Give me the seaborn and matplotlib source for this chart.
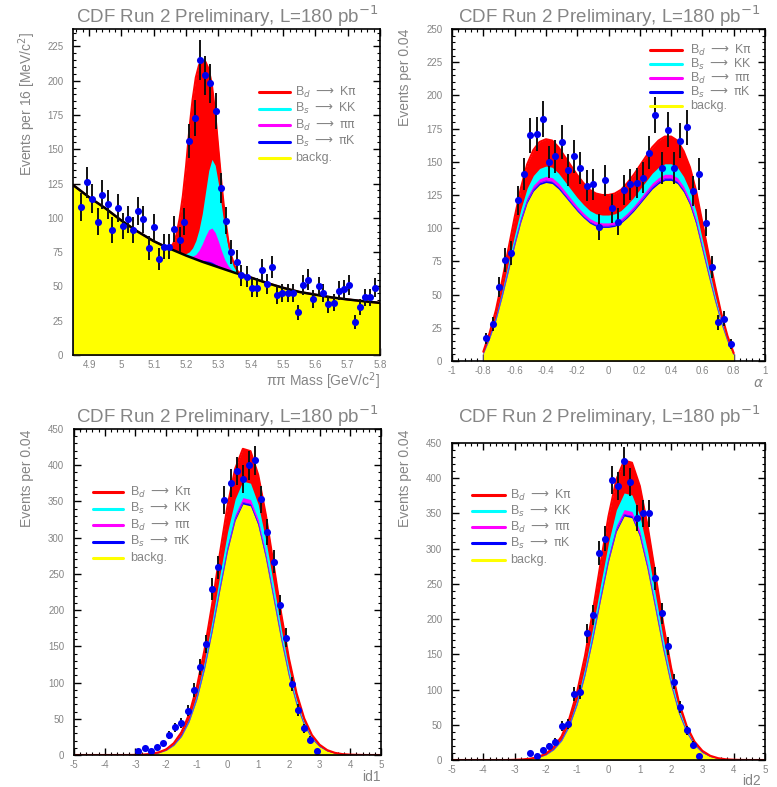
import numpy as np
import pandas as pd
import matplotlib
matplotlib.use("Agg")
import matplotlib.pyplot as plt
from matplotlib.lines import Line2D
from matplotlib.ticker import FixedLocator, MultipleLocator, FuncFormatter
import seaborn as sns

sns.set_theme(style="ticks")
plt.rcParams['font.family'] = ['Liberation Sans', 'DejaVu Sans']

# ---------------- data ----------------
title_text = "CDF Run 2 Preliminary, L=180 pb$^{-1}$"
legend_labels = [r"B$_d$ $\longrightarrow$ K$\mathrm{\pi}$", r"B$_s$ $\longrightarrow$ KK",
                 r"B$_d$ $\longrightarrow$ $\mathrm{\pi\pi}$", r"B$_s$ $\longrightarrow$ $\mathrm{\pi}$K",
                 "backg."]

# panel 1 : pi-pi mass
mass_grid = [4.85, 4.90, 4.95, 5.00, 5.05, 5.10, 5.14, 5.15, 5.16, 5.17, 5.18, 5.19, 5.20, 5.21, 5.22,
             5.23, 5.24, 5.25, 5.26, 5.27, 5.28, 5.29, 5.30, 5.31, 5.32, 5.33, 5.34, 5.35, 5.36, 5.37,
             5.38, 5.40, 5.45, 5.50, 5.55, 5.60, 5.65, 5.70, 5.75, 5.80]
mass_bkg = [124, 115, 107, 98, 90, 83, 78.5, 77.5, 76.5, 75.5, 74.5, 73.5, 72.5, 71.6, 70.7, 69.8, 68.9,
            68.0, 67.2, 66.4, 65.6, 64.8, 64.0, 63.2, 62.4, 61.6, 60.8, 60.0, 59.3, 58.6, 57.9, 56.5,
            52.5, 49.0, 46.0, 44.0, 42.0, 40.5, 39.2, 38.0]
mass_pik = [0, 0, 0, 0, 0, 0, 0, 0, 0, 0, 0, 0, 0, 0, 0, 0, 0.5, 1, 1.5, 2, 2, 1.5, 1, 0.5, 0, 0, 0, 0,
            0, 0, 0, 0, 0, 0, 0, 0, 0, 0, 0, 0]
mass_pipi = [0, 0, 0, 0, 0, 0, 0, 0, 0, 0, 0, 0, 0.2, 0.6, 1.4, 3.5, 7, 12, 18, 23, 25, 23, 18, 12, 7,
             3.5, 1.4, 0.5, 0.2, 0, 0, 0, 0, 0, 0, 0, 0, 0, 0, 0]
mass_kk = [0, 0, 0, 0, 0, 0, 0, 0, 0, 0, 0, 0.5, 1.2, 3, 6, 10, 15, 22, 32, 43, 50, 49, 42, 32, 22, 14,
           8, 4, 1.5, 0.5, 0.2, 0, 0, 0, 0, 0, 0, 0, 0, 0]
mass_kpi = [0, 0, 0, 0, 0, 0, 0, 1, 4.5, 12, 25, 42, 64, 89, 108, 119, 120, 111, 95, 74, 54, 38, 25, 16,
            10, 5, 2, 0.5, 0, 0, 0, 0, 0, 0, 0, 0, 0, 0, 0, 0]
mass_x = [4.876, 4.894, 4.910, 4.926, 4.941, 4.957, 4.972, 4.988, 5.005, 5.021, 5.037, 5.052, 5.068,
          5.085, 5.100, 5.117, 5.133, 5.148, 5.164, 5.180, 5.195, 5.210, 5.226, 5.244, 5.259, 5.275,
          5.292, 5.308, 5.324, 5.340, 5.356, 5.371, 5.387, 5.404, 5.420, 5.435, 5.451, 5.466, 5.482,
          5.498, 5.515, 5.531, 5.546, 5.562, 5.577, 5.593, 5.610, 5.625, 5.640, 5.658, 5.674, 5.689,
          5.705, 5.722, 5.738, 5.754, 5.769, 5.784]
mass_y = [108, 126, 114, 97, 117, 110, 91, 107, 94, 99, 91, 105, 99, 78, 93, 70, 79, 79, 92, 84, 97,
          156, 173, 215, 204, 198, 178, 122, 98, 75, 68, 58, 57, 49, 49, 62, 52, 64, 44, 45, 45, 45,
          31, 51, 55, 41, 50, 45, 37, 38, 47, 48, 51, 24, 35, 42, 42, 49]
mass_xticks = [4.9, 5.0, 5.1, 5.2, 5.3, 5.4, 5.5, 5.6, 5.7, 5.8]
mass_yticks = [0, 25, 50, 75, 100, 125, 150, 175, 200, 225]

# panel 2 : alpha
alpha_grid = [-0.80, -0.76, -0.72, -0.68, -0.64, -0.60, -0.56, -0.52, -0.48, -0.44, -0.40, -0.36, -0.32,
              -0.28, -0.24, -0.20, -0.16, -0.12, -0.08, -0.04, 0.00, 0.04, 0.08, 0.12, 0.16, 0.20, 0.24,
              0.28, 0.32, 0.36, 0.40, 0.44, 0.48, 0.52, 0.56, 0.60, 0.64, 0.68, 0.72, 0.76, 0.80]
alpha_bkg = [5.6, 16.9, 30.6, 48.3, 67.6, 86.9, 104.7, 119.1, 128.0, 132.8, 134.4, 133.6, 129.6, 124.0,
             118.3, 112.7, 107.9, 103.8, 101.4, 100.6, 100.6, 101.4, 103.8, 107.9, 112.7, 118.3, 124.0,
             129.6, 133.6, 136.0, 136.0, 133.6, 127.2, 117.5, 103.0, 83.7, 64.4, 45.9, 29.0, 15.3, 4.8]
alpha_pik = [0.1, 0.2, 0.3, 0.5, 0.7, 0.8, 1.0, 1.2, 1.2, 1.3, 1.3, 1.3, 1.3, 1.2, 1.1, 1.1, 1.0, 1.0,
             1.0, 1.0, 1.0, 1.0, 1.0, 1.0, 1.1, 1.1, 1.2, 1.3, 1.3, 1.3, 1.3, 1.3, 1.2, 1.1, 1.0, 0.8,
             0.6, 0.4, 0.3, 0.1, 0.0]
alpha_pipi = [0.1, 0.4, 0.7, 1.2, 1.6, 2.1, 2.5, 2.9, 3.1, 3.2, 3.3, 3.2, 3.1, 3.0, 2.9, 2.7, 2.6, 2.5,
              2.5, 2.4, 2.4, 2.5, 2.5, 2.6, 2.7, 2.9, 3.0, 3.1, 3.2, 3.3, 3.3, 3.2, 3.1, 2.9, 2.5, 2.0,
              1.6, 1.1, 0.7, 0.4, 0.1]
alpha_kk = [0.3, 1.0, 1.8, 2.8, 3.9, 5.1, 6.1, 6.9, 7.4, 7.7, 7.8, 7.8, 7.5, 7.2, 6.9, 6.6, 6.3, 6.0,
            5.9, 5.9, 5.9, 5.9, 6.0, 6.3, 6.6, 6.9, 7.2, 7.5, 7.8, 7.9, 7.9, 7.8, 7.4, 6.8, 6.0, 4.9,
            3.7, 2.7, 1.7, 0.9, 0.3]
alpha_kpi = [0.9, 2.5, 4.6, 7.3, 10.2, 13.1, 15.7, 17.9, 19.2, 20.0, 20.2, 20.1, 19.5, 18.6, 17.8, 16.9,
             16.2, 15.6, 15.3, 15.1, 15.1, 15.3, 15.6, 16.2, 16.9, 17.8, 18.6, 19.5, 20.1, 20.5, 20.5,
             20.1, 19.1, 17.7, 15.5, 12.6, 9.7, 6.9, 4.3, 2.3, 0.7]
alpha_x = [-0.78, -0.74, -0.70, -0.66, -0.62, -0.58, -0.54, -0.50, -0.46, -0.42, -0.38, -0.34, -0.30,
           -0.26, -0.22, -0.18, -0.14, -0.10, -0.06, -0.02, 0.02, 0.06, 0.10, 0.14, 0.18, 0.22, 0.26,
           0.30, 0.34, 0.38, 0.42, 0.46, 0.50, 0.54, 0.58, 0.62, 0.66, 0.70, 0.74, 0.78]
alpha_y = [17, 28, 56, 76, 81, 121, 141, 170, 171, 182, 150, 154, 165, 144, 154, 145, 132, 133, 101,
           136, 115, 105, 129, 133, 134, 138, 157, 185, 145, 174, 145, 166, 176, 128, 141, 104, 71, 29,
           32, 13]
alpha_xticks = [-1.0, -0.8, -0.6, -0.4, -0.2, 0.0, 0.2, 0.4, 0.6, 0.8, 1.0]
alpha_yticks = [0, 25, 50, 75, 100, 125, 150, 175, 200, 225, 250]

# panels 3/4 : id1, id2
id_grid = [-5.0, -4.75, -4.5, -4.25, -4.0, -3.75, -3.5, -3.25, -3.0, -2.75, -2.5, -2.25, -2.0, -1.75,
           -1.5, -1.25, -1.0, -0.75, -0.5, -0.25, 0.0, 0.25, 0.5, 0.75, 1.0, 1.25, 1.5, 1.75, 2.0, 2.25,
           2.5, 2.75, 3.0, 3.25, 3.5, 3.75, 4.0, 4.25, 4.5, 4.75, 5.0]
id1_bkg = [0, 0, 0, 0, 0, 0, 0, 0, 0.2, 0.5, 1.2, 2.9, 6.4, 13.4, 25.7, 46.2, 76.8, 118.7, 170.5, 227.4,
           281.8, 324.1, 346.5, 343.9, 317.1, 271.5, 216.0, 159.6, 109.5, 69.8, 41.3, 22.7, 11.6, 5.5,
           2.5, 1.0, 0.4, 0.2, 0, 0, 0]
id1_pik = [0, 0, 0, 0, 0, 0, 0, 0, 0, 0, 0, 0, 0, 0.1, 0.2, 0.3, 0.5, 0.8, 1.1, 1.5, 1.9, 2.1, 2.3, 2.3,
           2.1, 1.8, 1.4, 1.1, 0.7, 0.5, 0.3, 0.1, 0.1, 0, 0, 0, 0, 0, 0, 0, 0]
id1_pipi = [0, 0, 0, 0, 0, 0, 0, 0, 0, 0, 0, 0.1, 0.1, 0.2, 0.5, 0.9, 1.4, 2.2, 3.2, 4.2, 5.3, 6.0, 6.5,
            6.4, 5.9, 5.1, 4.0, 3.0, 2.0, 1.3, 0.8, 0.4, 0.2, 0.1, 0, 0, 0, 0, 0, 0, 0]
id1_kk = [0, 0, 0, 0, 0, 0, 0, 0, 0, 0, 0.1, 0.2, 0.4, 0.9, 1.7, 3.0, 5.1, 7.8, 11.2, 15.0, 18.6, 21.3,
          22.8, 22.6, 20.9, 17.9, 14.2, 10.5, 7.2, 4.6, 2.7, 1.5, 0.8, 0.4, 0.2, 0.1, 0, 0, 0, 0, 0]
id1_kpi = [0, 0, 0, 0, 0, 0, 0, 0, 0, 0.1, 0.2, 0.4, 0.8, 1.7, 3.3, 5.9, 9.9, 15.2, 21.9, 29.2, 36.2,
           41.6, 44.5, 44.2, 40.7, 34.9, 27.7, 20.5, 14.1, 9.0, 5.3, 2.9, 1.5, 0.7, 0.3, 0.1, 0.1, 0,
           0, 0, 0]
id1_x = [-2.9, -2.7, -2.5, -2.3, -2.1, -1.9, -1.7, -1.5, -1.3, -1.1, -0.9, -0.7, -0.5, -0.3, -0.1, 0.1,
         0.3, 0.5, 0.7, 0.9, 1.1, 1.3, 1.5, 1.7, 1.9, 2.1, 2.3, 2.5, 2.7, 2.9]
id1_y = [5, 9, 5, 11, 16, 28, 38, 44, 61, 90, 122, 153, 229, 259, 352, 376, 392, 381, 400, 407, 353,
         308, 267, 207, 162, 98, 62, 37, 21, 6]

id2_bkg = [0, 0, 0, 0, 0, 0, 0, 0, 0.2, 0.7, 1.5, 3.4, 7.3, 14.7, 27.3, 48.1, 79.1, 120.6, 172.0, 228.2,
           282.0, 324.4, 346.4, 343.9, 317.0, 270.6, 214.3, 157.3, 106.8, 66.8, 39.1, 21.2, 10.6, 4.9,
           2.1, 0.8, 0.3, 0.1, 0, 0, 0]
id2_pik = [0, 0, 0, 0, 0, 0, 0, 0, 0, 0, 0, 0, 0.1, 0.1, 0.2, 0.3, 0.5, 0.8, 1.2, 1.6, 1.9, 2.2, 2.4,
           2.3, 2.2, 1.8, 1.5, 1.1, 0.7, 0.5, 0.3, 0.1, 0.1, 0, 0, 0, 0, 0, 0, 0, 0]
id2_pipi = [0, 0, 0, 0, 0, 0, 0, 0, 0, 0, 0, 0.1, 0.1, 0.3, 0.5, 0.9, 1.5, 2.3, 3.3, 4.4, 5.4, 6.3, 6.7,
            6.6, 6.1, 5.2, 4.1, 3.0, 2.1, 1.3, 0.8, 0.4, 0.2, 0.1, 0, 0, 0, 0, 0, 0, 0]
id2_kk = [0, 0, 0, 0, 0, 0, 0, 0, 0, 0, 0.1, 0.2, 0.5, 1.0, 1.9, 3.3, 5.4, 8.2, 11.7, 15.5, 19.2, 22.1,
          23.6, 23.4, 21.6, 18.4, 14.6, 10.7, 7.3, 4.6, 2.7, 1.4, 0.7, 0.3, 0.2, 0.1, 0, 0, 0, 0, 0]
id2_kpi = [0, 0, 0, 0, 0, 0, 0, 0, 0.1, 0.1, 0.3, 0.5, 1.0, 1.9, 3.6, 6.4, 10.5, 16.1, 22.8, 30.3, 37.5,
           43.0, 45.9, 45.8, 42.1, 36.0, 28.5, 20.9, 14.1, 8.8, 5.1, 2.9, 1.4, 0.7, 0.3, 0.1, 0.1, 0,
           0, 0, 0]
id2_x = [-2.5, -2.3, -2.1, -1.9, -1.7, -1.5, -1.3, -1.1, -0.9, -0.7, -0.5, -0.3, -0.1, 0.1, 0.3, 0.5,
         0.7, 0.9, 1.1, 1.3, 1.5, 1.7, 1.9, 2.1, 2.3, 2.5, 2.7, 2.9]
id2_y = [10, 6, 14, 20, 26, 48, 51, 94, 96, 180, 206, 294, 314, 397, 389, 424, 394, 343, 350, 350, 258,
         208, 162, 111, 75, 42, 22, 6]
id_xticks = [-5, -4, -3, -2, -1, 0, 1, 2, 3, 4, 5]
id_yticks = [0, 50, 100, 150, 200, 250, 300, 350, 400, 450]

# ---------------- style ----------------
W, H = 777, 787
RED, CYAN, MAG, BLUE, YEL = "#ff0000", "#00ffff", "#ff00ff", "#0000ff", "#ffff00"
GRAY = "#858585"
PT_COL = "#0000f0"

fig = plt.figure(figsize=(W / 100, H / 100), dpi=100)


def fx(px):
    return px / W


def fy(py):
    return 1 - py / H


def px_axes(l, t, r, b):
    return fig.add_axes([fx(l), fy(b), (r - l) / W, (b - t) / H])


def fmt(v, pos):
    return f"{v:g}"


def style(ax, xlim, ylim, xticks, xminor, yticks, yminor):
    ax.set_xlim(*xlim)
    ax.set_ylim(*ylim)
    ax.xaxis.set_major_locator(FixedLocator(xticks))
    ax.yaxis.set_major_locator(FixedLocator(yticks))
    ax.xaxis.set_minor_locator(MultipleLocator(xminor))
    ax.yaxis.set_minor_locator(MultipleLocator(yminor))
    ax.xaxis.set_major_formatter(FuncFormatter(fmt))
    ax.yaxis.set_major_formatter(FuncFormatter(fmt))
    ax.tick_params(which='both', direction='in', top=True, right=True, color='black',
                   labelcolor=GRAY, labelsize=7)
    ax.tick_params(which='major', length=5, width=1.0)
    ax.tick_params(which='minor', length=2.5, width=0.8)
    ax.tick_params(axis='y', pad=7)
    ax.tick_params(axis='x', pad=3.5)
    for s in ax.spines.values():
        s.set_linewidth(1.2)
        s.set_color('black')
        s.set_zorder(5)
    ax.set_xlabel("")
    ax.set_ylabel("")
    ax.set_facecolor("white")


def draw_fit(ax, x, bkg, pik, pipi, kk, kpi, bkg_black=False, blue_line=True):
    df = pd.DataFrame({"x": x, "bkg": bkg, "pik": pik, "pipi": pipi, "kk": kk, "kpi": kpi})
    df["t_b"] = df["bkg"]
    df["t_pik"] = df["t_b"] + df["pik"]
    df["t_pipi"] = df["t_pik"] + df["pipi"]
    df["t_kk"] = df["t_pipi"] + df["kk"]
    df["t_kpi"] = df["t_kk"] + df["kpi"]
    for col, c in [("t_kpi", RED), ("t_kk", CYAN), ("t_pipi", MAG), ("t_pik", BLUE), ("t_b", YEL)]:
        ax.fill_between(df["x"], 0, df[col], color=c, lw=0, zorder=1)
    sns.lineplot(data=df, x="x", y="t_kpi", ax=ax, color=RED, lw=1.5, estimator=None, sort=False,
                 zorder=1.6)
    if blue_line:
        sns.lineplot(data=df, x="x", y="t_pik", ax=ax, color="#3030ff", lw=0.45, estimator=None,
                     sort=False, zorder=1.5)
    if bkg_black:
        sns.lineplot(data=df, x="x", y="t_b", ax=ax, color="black", lw=1.8, estimator=None, sort=False,
                     zorder=1.7)


def draw_data(ax, x, y):
    y = np.asarray(y, dtype=float)
    ax.errorbar(x, y, yerr=np.sqrt(y), fmt='none', ecolor='#111111', elinewidth=1.4, capsize=0,
                zorder=3)
    sns.scatterplot(x=x, y=y, ax=ax, color=PT_COL, s=26, linewidth=0, zorder=4)


def draw_legend(line_x0, line_x1, text_x, row_y, fs=9.0):
    cols = [RED, CYAN, MAG, BLUE, YEL]
    for lab, c, yy in zip(legend_labels, cols, row_y):
        fig.add_artist(Line2D([fx(line_x0), fx(line_x1)], [fy(yy), fy(yy)], color=c, lw=2.2,
                              transform=fig.transFigure))
        fig.text(fx(text_x), fy(yy), lab, color=GRAY, fontsize=fs, ha='left', va='center')


def title(cx, cy):
    fig.text(fx(cx), fy(cy), title_text, color=GRAY, fontsize=13.5, ha='center', va='center')


# ---------------- panel 1 ----------------
ax1 = px_axes(73, 29, 380, 355)
draw_fit(ax1, mass_grid, mass_bkg, mass_pik, mass_pipi, mass_kk, mass_kpi, bkg_black=True,
         blue_line=False)
draw_data(ax1, mass_x, mass_y)
style(ax1, (4.85, 5.8), (0, 237.7), mass_xticks, 0.02, mass_yticks, 5)
title(227, 16)
fig.text(fx(27), fy(32), "Events per 16 [MeV/c$^2$]", rotation=90, color=GRAY, fontsize=10,
         ha='center', va='top')
fig.text(fx(380), fy(381), "ππ Mass [GeV/c$^2$]", color=GRAY, fontsize=10, ha='right', va='center')
draw_legend(259, 290, 295, [92, 108.5, 125, 141.5, 158])

# ---------------- panel 2 ----------------
ax2 = px_axes(452, 29, 765, 361)
draw_fit(ax2, alpha_grid, alpha_bkg, alpha_pik, alpha_pipi, alpha_kk, alpha_kpi)
draw_data(ax2, alpha_x, alpha_y)
style(ax2, (-1, 1), (0, 250), alpha_xticks, 0.04, alpha_yticks, 5)
title(609, 16)
fig.text(fx(405), fy(29), "Events per 0.04", rotation=90, color=GRAY, fontsize=10, ha='center',
         va='top')
fig.text(fx(764), fy(383), r"$\alpha$", color=GRAY, fontsize=10, ha='right', va='center')
draw_legend(650, 682, 690, [50, 64, 78, 92, 106])

# ---------------- panel 3 ----------------
ax3 = px_axes(74, 429, 381, 755)
draw_fit(ax3, id_grid, id1_bkg, id1_pik, id1_pipi, id1_kk, id1_kpi)
draw_data(ax3, id1_x, id1_y)
style(ax3, (-5, 5), (0, 450), id_xticks, 0.2, id_yticks, 10)
title(227, 416)
fig.text(fx(27), fy(430), "Events per 0.04", rotation=90, color=GRAY, fontsize=10, ha='center',
         va='top')
fig.text(fx(381), fy(777), "id1", color=GRAY, fontsize=10, ha='right', va='center')
draw_legend(93, 123, 130, [492, 508.5, 525, 541.5, 558])

# ---------------- panel 4 ----------------
ax4 = px_axes(452, 443, 765, 760)
draw_fit(ax4, id_grid, id2_bkg, id2_pik, id2_pipi, id2_kk, id2_kpi)
draw_data(ax4, id2_x, id2_y)
style(ax4, (-5, 5), (0, 450), id_xticks, 0.2, id_yticks, 10)
title(609, 416)
fig.text(fx(405), fy(430), "Events per 0.04", rotation=90, color=GRAY, fontsize=10, ha='center',
         va='top')
fig.text(fx(761), fy(781), "id2", color=GRAY, fontsize=10, ha='right', va='center')
draw_legend(472, 505, 510, [495, 511, 527, 543, 560])

fig.savefig("out.png", dpi=100)
